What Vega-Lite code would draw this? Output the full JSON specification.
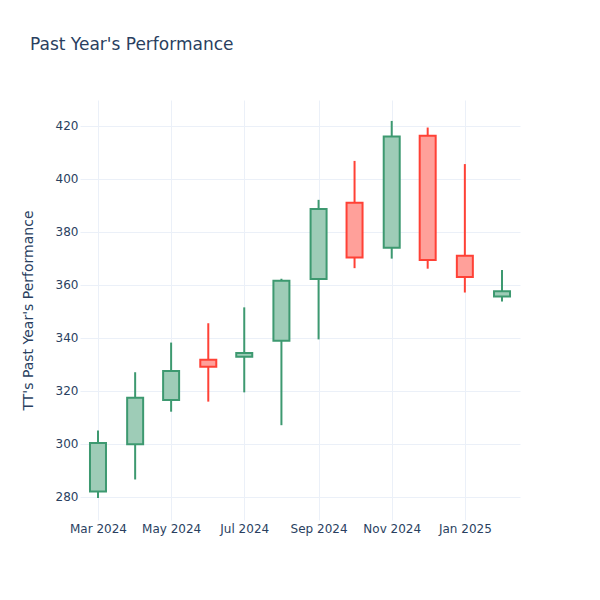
{
  "$schema": "https://vega.github.io/schema/vega-lite/v6.json",
  "autosize": {"type": "none"},
  "padding": {"left": 80, "top": 100, "right": 80, "bottom": 80},
  "width": 440,
  "height": 420,
  "background": "white",
  "title": {
    "text": "Past Year's Performance",
    "anchor": "start",
    "frame": "group",
    "dx": -50,
    "offset": 46,
    "fontSize": 17,
    "font": "DejaVu Sans",
    "fontWeight": "normal",
    "color": "#2a3f5f"
  },
  "config": {
    "view": {"stroke": null},
    "font": "DejaVu Sans",
    "axis": {
      "domain": false,
      "ticks": false,
      "gridColor": "#EBF0F8",
      "gridWidth": 1,
      "labelColor": "#2a3f5f",
      "labelFontSize": 12,
      "labelFont": "DejaVu Sans",
      "titleColor": "#2a3f5f",
      "titleFont": "DejaVu Sans",
      "titleFontSize": 14,
      "titleFontWeight": "normal"
    }
  },
  "data": {
    "values": [
      {"date": "2024-03-01", "open": 282.0, "high": 305.0, "low": 279.5, "close": 300.3, "dir": "up"},
      {"date": "2024-04-01", "open": 299.8, "high": 327.0, "low": 286.5, "close": 317.4, "dir": "up"},
      {"date": "2024-05-01", "open": 316.5, "high": 338.2, "low": 312.1, "close": 327.5, "dir": "up"},
      {"date": "2024-06-01", "open": 331.7, "high": 345.5, "low": 315.9, "close": 329.1, "dir": "down"},
      {"date": "2024-07-01", "open": 332.8, "high": 351.5, "low": 319.4, "close": 334.3, "dir": "up"},
      {"date": "2024-08-01", "open": 338.9, "high": 362.3, "low": 307.0, "close": 361.5, "dir": "up"},
      {"date": "2024-09-01", "open": 362.2, "high": 392.1, "low": 339.4, "close": 388.6, "dir": "up"},
      {"date": "2024-10-01", "open": 391.0, "high": 406.8, "low": 366.3, "close": 370.3, "dir": "down"},
      {"date": "2024-11-01", "open": 374.0, "high": 421.9, "low": 369.9, "close": 416.0, "dir": "up"},
      {"date": "2024-12-01", "open": 416.3, "high": 419.4, "low": 366.1, "close": 369.4, "dir": "down"},
      {"date": "2025-01-01", "open": 371.0, "high": 405.6, "low": 357.1, "close": 363.0, "dir": "down"},
      {"date": "2025-02-01", "open": 355.6, "high": 365.6, "low": 353.7, "close": 357.6, "dir": "up"}
    ]
  },
  "encoding": {
    "x": {
      "field": "date",
      "type": "temporal",
      "scale": {
        "type": "utc",
        "padding": 0,
        "domain": [
          {"year": 2024, "month": 2, "date": 15, "utc": true},
          {"year": 2025, "month": 2, "date": 16, "utc": true}
        ]
      },
      "axis": {
        "title": null,
        "format": "%b %Y",
        "tickCount": {"interval": "month", "step": 2},
        "labelPadding": 3,
        "labelFlush": false,
        "labelOverlap": false
      }
    }
  },
  "layer": [
    {
      "mark": {"type": "rule", "strokeWidth": 2},
      "encoding": {
        "y": {
          "field": "low",
          "type": "quantitative",
          "scale": {"domain": [271.2, 429.8], "nice": false, "zero": false},
          "axis": {
            "title": "TT's Past Year's Performance",
            "values": [280, 300, 320, 340, 360, 380, 400, 420],
            "labelPadding": 2,
            "titlePadding": 20
          }
        },
        "y2": {"field": "high"},
        "stroke": {
          "field": "dir",
          "type": "nominal",
          "scale": {"domain": ["up", "down"], "range": ["#3D9970", "#FF4136"]},
          "legend": null
        }
      }
    },
    {
      "mark": {"type": "bar", "size": 16, "fill": "white", "strokeWidth": 0},
      "encoding": {
        "y": {"field": "open", "type": "quantitative"},
        "y2": {"field": "close"}
      }
    },
    {
      "mark": {"type": "bar", "size": 16, "fillOpacity": 0.5, "strokeWidth": 2},
      "encoding": {
        "y": {"field": "open", "type": "quantitative"},
        "y2": {"field": "close"},
        "fill": {
          "field": "dir",
          "type": "nominal",
          "scale": {"domain": ["up", "down"], "range": ["#3D9970", "#FF4136"]},
          "legend": null
        },
        "stroke": {
          "field": "dir",
          "type": "nominal",
          "legend": null
        }
      }
    }
  ]
}
